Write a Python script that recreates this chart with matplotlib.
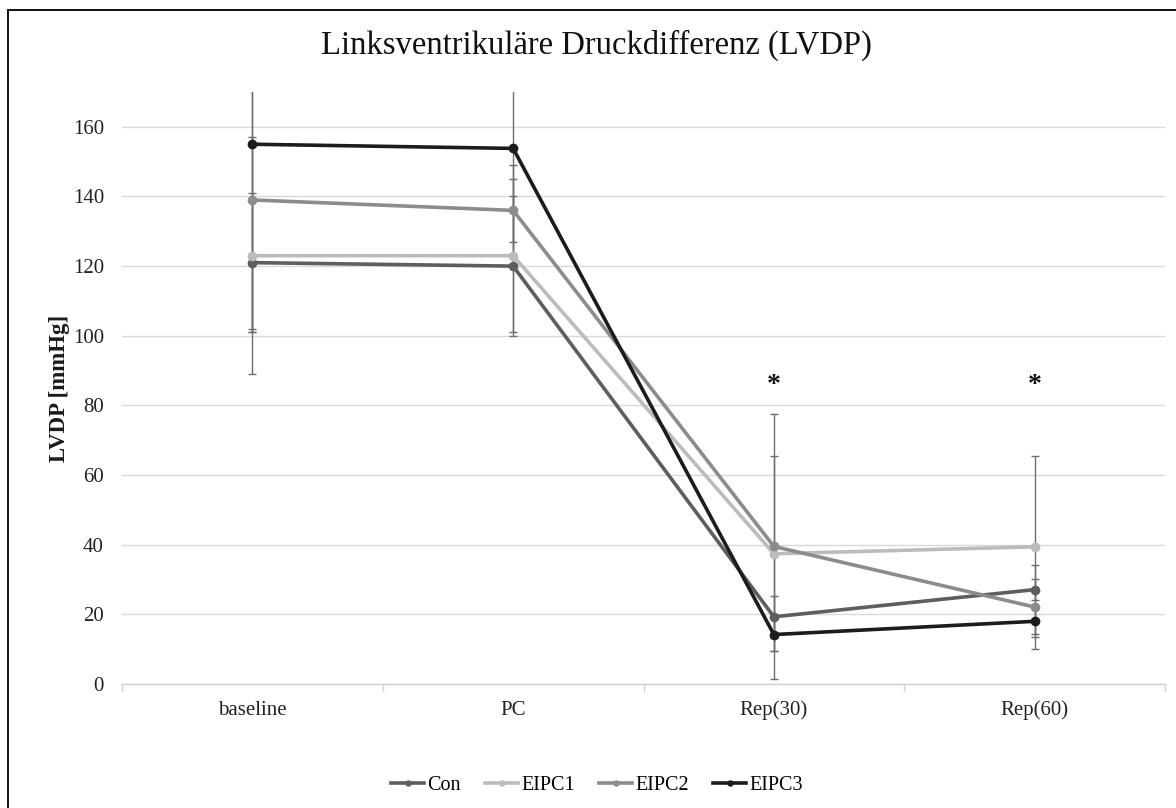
import matplotlib

matplotlib.use("Agg")
import matplotlib.pyplot as plt
from matplotlib.patches import Rectangle

# data
categories = ["baseline", "PC", "Rep(30)", "Rep(60)"]
series_names = ["Con", "EIPC1", "EIPC2", "EIPC3"]

con = [121, 120, 19.3, 27.1]
eipc1 = [123, 123, 37.4, 39.4]
eipc2 = [139, 136, 39.5, 22.1]
eipc3 = [155, 153.8, 14.2, 18.0]

con_sd = [20, 20, 6, 3]
eipc1_sd = [34, 22, 28, 26]
eipc2_sd = [38, 13, 38, 12]
eipc3_sd = [53, 27, 4.8, 3.7]

significant = ["Rep(30)", "Rep(60)"]

colors = ["#5e5e5e", "#bcbcbc", "#8c8c8c", "#1c1c1c"]

plt.rcParams["font.family"] = ["Liberation Serif", "DejaVu Serif"]

fig = plt.figure(figsize=(11.76, 8.08), dpi=100)
ax = fig.add_axes([122 / 1176, 1 - 684 / 808, 1043 / 1176, 592 / 808])

x = list(range(len(categories)))
values = [con, eipc1, eipc2, eipc3]
errors = [con_sd, eipc1_sd, eipc2_sd, eipc3_sd]

for vals, errs in zip(values, errors):
    ax.errorbar(x, vals, yerr=errs, fmt="none", ecolor="#6e6e6e",
                elinewidth=1.0, capsize=3, capthick=1.0, zorder=2)

for name, vals, color in zip(series_names, values, colors):
    ax.plot(x, vals, color=color, linewidth=2.6, marker="o",
            markersize=6, label=name, zorder=3)

for cat in significant:
    ax.text(categories.index(cat), 85.8, "*", ha="center", va="center",
            fontsize=20, fontweight="bold", color="#111111")

ax.set_xlim(-0.5, len(categories) - 0.5)
ax.set_ylim(0, 170)
ax.set_yticks(range(0, 161, 20))
ax.set_xticks(x)
ax.set_xticklabels(categories)
ax.set_xticks([i - 0.5 for i in range(len(categories) + 1)], minor=True)

ax.grid(axis="y", color="#d9d9d9", linewidth=1.0)
ax.set_axisbelow(True)
for side in ["top", "right", "left"]:
    ax.spines[side].set_visible(False)
ax.spines["bottom"].set_color("#d0d0d0")
ax.spines["bottom"].set_linewidth(1.0)

ax.tick_params(axis="y", length=0, pad=13, labelsize=15, labelcolor="#222222")
ax.tick_params(axis="x", which="major", length=0, pad=12, labelsize=15,
               labelcolor="#222222")
ax.tick_params(axis="x", which="minor", length=5, width=1.0, color="#d0d0d0")

ax.set_ylabel("LVDP [mmHg]", fontsize=16.5, fontweight="bold", color="#1a1a1a")
ax.yaxis.set_label_coords(-0.05, 0.5)

fig.text(596 / 1176, 1 - 45 / 808, "Linksventrikuläre Druckdifferenz (LVDP)",
         ha="center", va="center", fontsize=23.5, color="#111111")

fig.legend(loc="center", bbox_to_anchor=(597 / 1176, 1 - 785 / 808), ncol=4,
           frameon=False, fontsize=14.5, handlelength=1.65, handletextpad=0.15,
           columnspacing=1.2, markerscale=0.6)

fig.add_artist(Rectangle((8 / 1176, -0.05), 1.1, 1.05 - 10 / 808,
                         transform=fig.transFigure, fill=False,
                         edgecolor="#111111", linewidth=1.4))

fig.savefig("out.png", dpi=100)
plt.close(fig)
